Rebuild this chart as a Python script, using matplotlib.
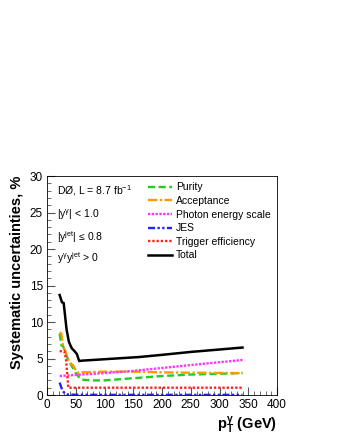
import matplotlib
matplotlib.use("Agg")
import matplotlib.pyplot as plt
from matplotlib.ticker import MultipleLocator

plt.rcParams['font.family'] = ['Liberation Sans', 'DejaVu Sans']
plt.rcParams['mathtext.fontset'] = 'custom'
plt.rcParams['mathtext.rm'] = 'Liberation Sans'
plt.rcParams['mathtext.it'] = 'Liberation Sans'
plt.rcParams['mathtext.bf'] = 'Liberation Sans:bold'

# values
total_x = [22, 26, 29, 34, 38, 43, 48, 52, 56, 60, 100, 160, 200, 250, 340]
total_y = [13.7, 12.7, 12.6, 9.0, 7.3, 6.4, 6.0, 5.6, 4.65, 4.7, 4.9, 5.2, 5.5, 5.9, 6.5]

purity_x = [22, 25, 28, 32, 36, 40, 45, 50, 55, 60, 80, 100, 150, 200, 250, 340]
purity_y = [8.4, 6.8, 6.7, 5.8, 5.0, 4.4, 3.7, 3.0, 2.5, 2.1, 2.0, 2.0, 2.3, 2.6, 2.8, 3.0]

accept_x = [22, 25, 28, 32, 36, 40, 45, 50, 55, 60, 100, 150, 200, 250, 340]
accept_y = [8.6, 8.4, 6.6, 6.0, 5.0, 4.4, 4.1, 3.4, 3.0, 3.1, 3.2, 3.2, 3.1, 3.05, 3.0]

pes_x = [22, 50, 100, 150, 200, 250, 340]
pes_y = [2.6, 2.75, 3.0, 3.3, 3.7, 4.1, 4.8]

jes_x = [22, 25, 28, 31, 35, 40, 60, 100, 200, 340]
jes_y = [1.7, 1.0, 0.5, 0.2, 0.08, 0.05, 0.03, 0.02, 0.02, 0.02]

trig_x = [22, 30, 33, 35, 37, 40, 60, 100, 200, 340]
trig_y = [6.0, 6.0, 5.0, 3.0, 1.0, 1.0, 1.0, 1.0, 1.0, 1.0]

labels = ["Purity", "Acceptance", "Photon energy scale", "JES",
          "Trigger efficiency", "Total"]

fig = plt.figure(figsize=(3.4, 4.4), dpi=100)
ax = fig.add_axes([47 / 340, 45 / 440, 230 / 340, 219 / 440])

ax.plot(purity_x, purity_y, color='#22cc22', lw=1.7, ls=(0, (3, 1.5)), label=labels[0])
ax.plot(accept_x, accept_y, color='#ff9900', lw=1.7, ls=(0, (4, 1, 1, 1)), label=labels[1])
ax.plot(pes_x, pes_y, color='#ff33ff', lw=1.7, ls=(0, (1, 0.6)), label=labels[2])
ax.plot(jes_x, jes_y, color='#2222ff', lw=1.7, ls=(0, (3, 1, 1, 1, 1, 1)), label=labels[3])
ax.plot(trig_x, trig_y, color='#ff2222', lw=1.7, ls=(0, (1, 0.8)), label=labels[4])
ax.plot(total_x, total_y, color='black', lw=1.8, label=labels[5])

ax.set_xlim(0, 400)
ax.set_ylim(0, 30)
ax.xaxis.set_major_locator(MultipleLocator(50))
ax.xaxis.set_minor_locator(MultipleLocator(10))
ax.yaxis.set_major_locator(MultipleLocator(5))
ax.yaxis.set_minor_locator(MultipleLocator(1))
ax.tick_params(which='both', direction='in', top=False, right=False,
               labelsize=8.5, pad=3, color='#555555')
ax.tick_params(which='major', length=6)
ax.tick_params(which='minor', length=3)
for s in ax.spines.values():
    s.set_linewidth(0.6)

ax.set_ylabel("Systematic uncertainties, %", fontsize=10.5, fontweight='bold')
ax.yaxis.set_label_coords(-0.10, 0.56)
ax.set_xlabel(r"$\mathbf{p_T^{\gamma}}$ (GeV)", fontsize=10.5, fontweight='bold')
ax.xaxis.set_label_coords(1.0, -0.09)
ax.xaxis.label.set_horizontalalignment('right')

leg = ax.legend(loc='upper left', bbox_to_anchor=(0.41, 1.0), frameon=False,
                fontsize=7.5, handlelength=2.3, handletextpad=0.4,
                labelspacing=0.35, borderaxespad=0.2)

ax.text(0.045, 0.965, r"DØ, L = 8.7 fb$^{-1}$", transform=ax.transAxes,
        fontsize=7.5, va='top')
ax.text(0.045, 0.855, r"|y$^{\gamma}$| < 1.0", transform=ax.transAxes,
        fontsize=7.5, va='top')
ax.text(0.045, 0.755, r"|y$^{\rm jet}$| ≤ 0.8", transform=ax.transAxes,
        fontsize=7.5, va='top')
ax.text(0.045, 0.66, r"y$^{\gamma}$y$^{\rm jet}$ > 0", transform=ax.transAxes,
        fontsize=7.5, va='top')

fig.savefig("out.png", dpi=100)
